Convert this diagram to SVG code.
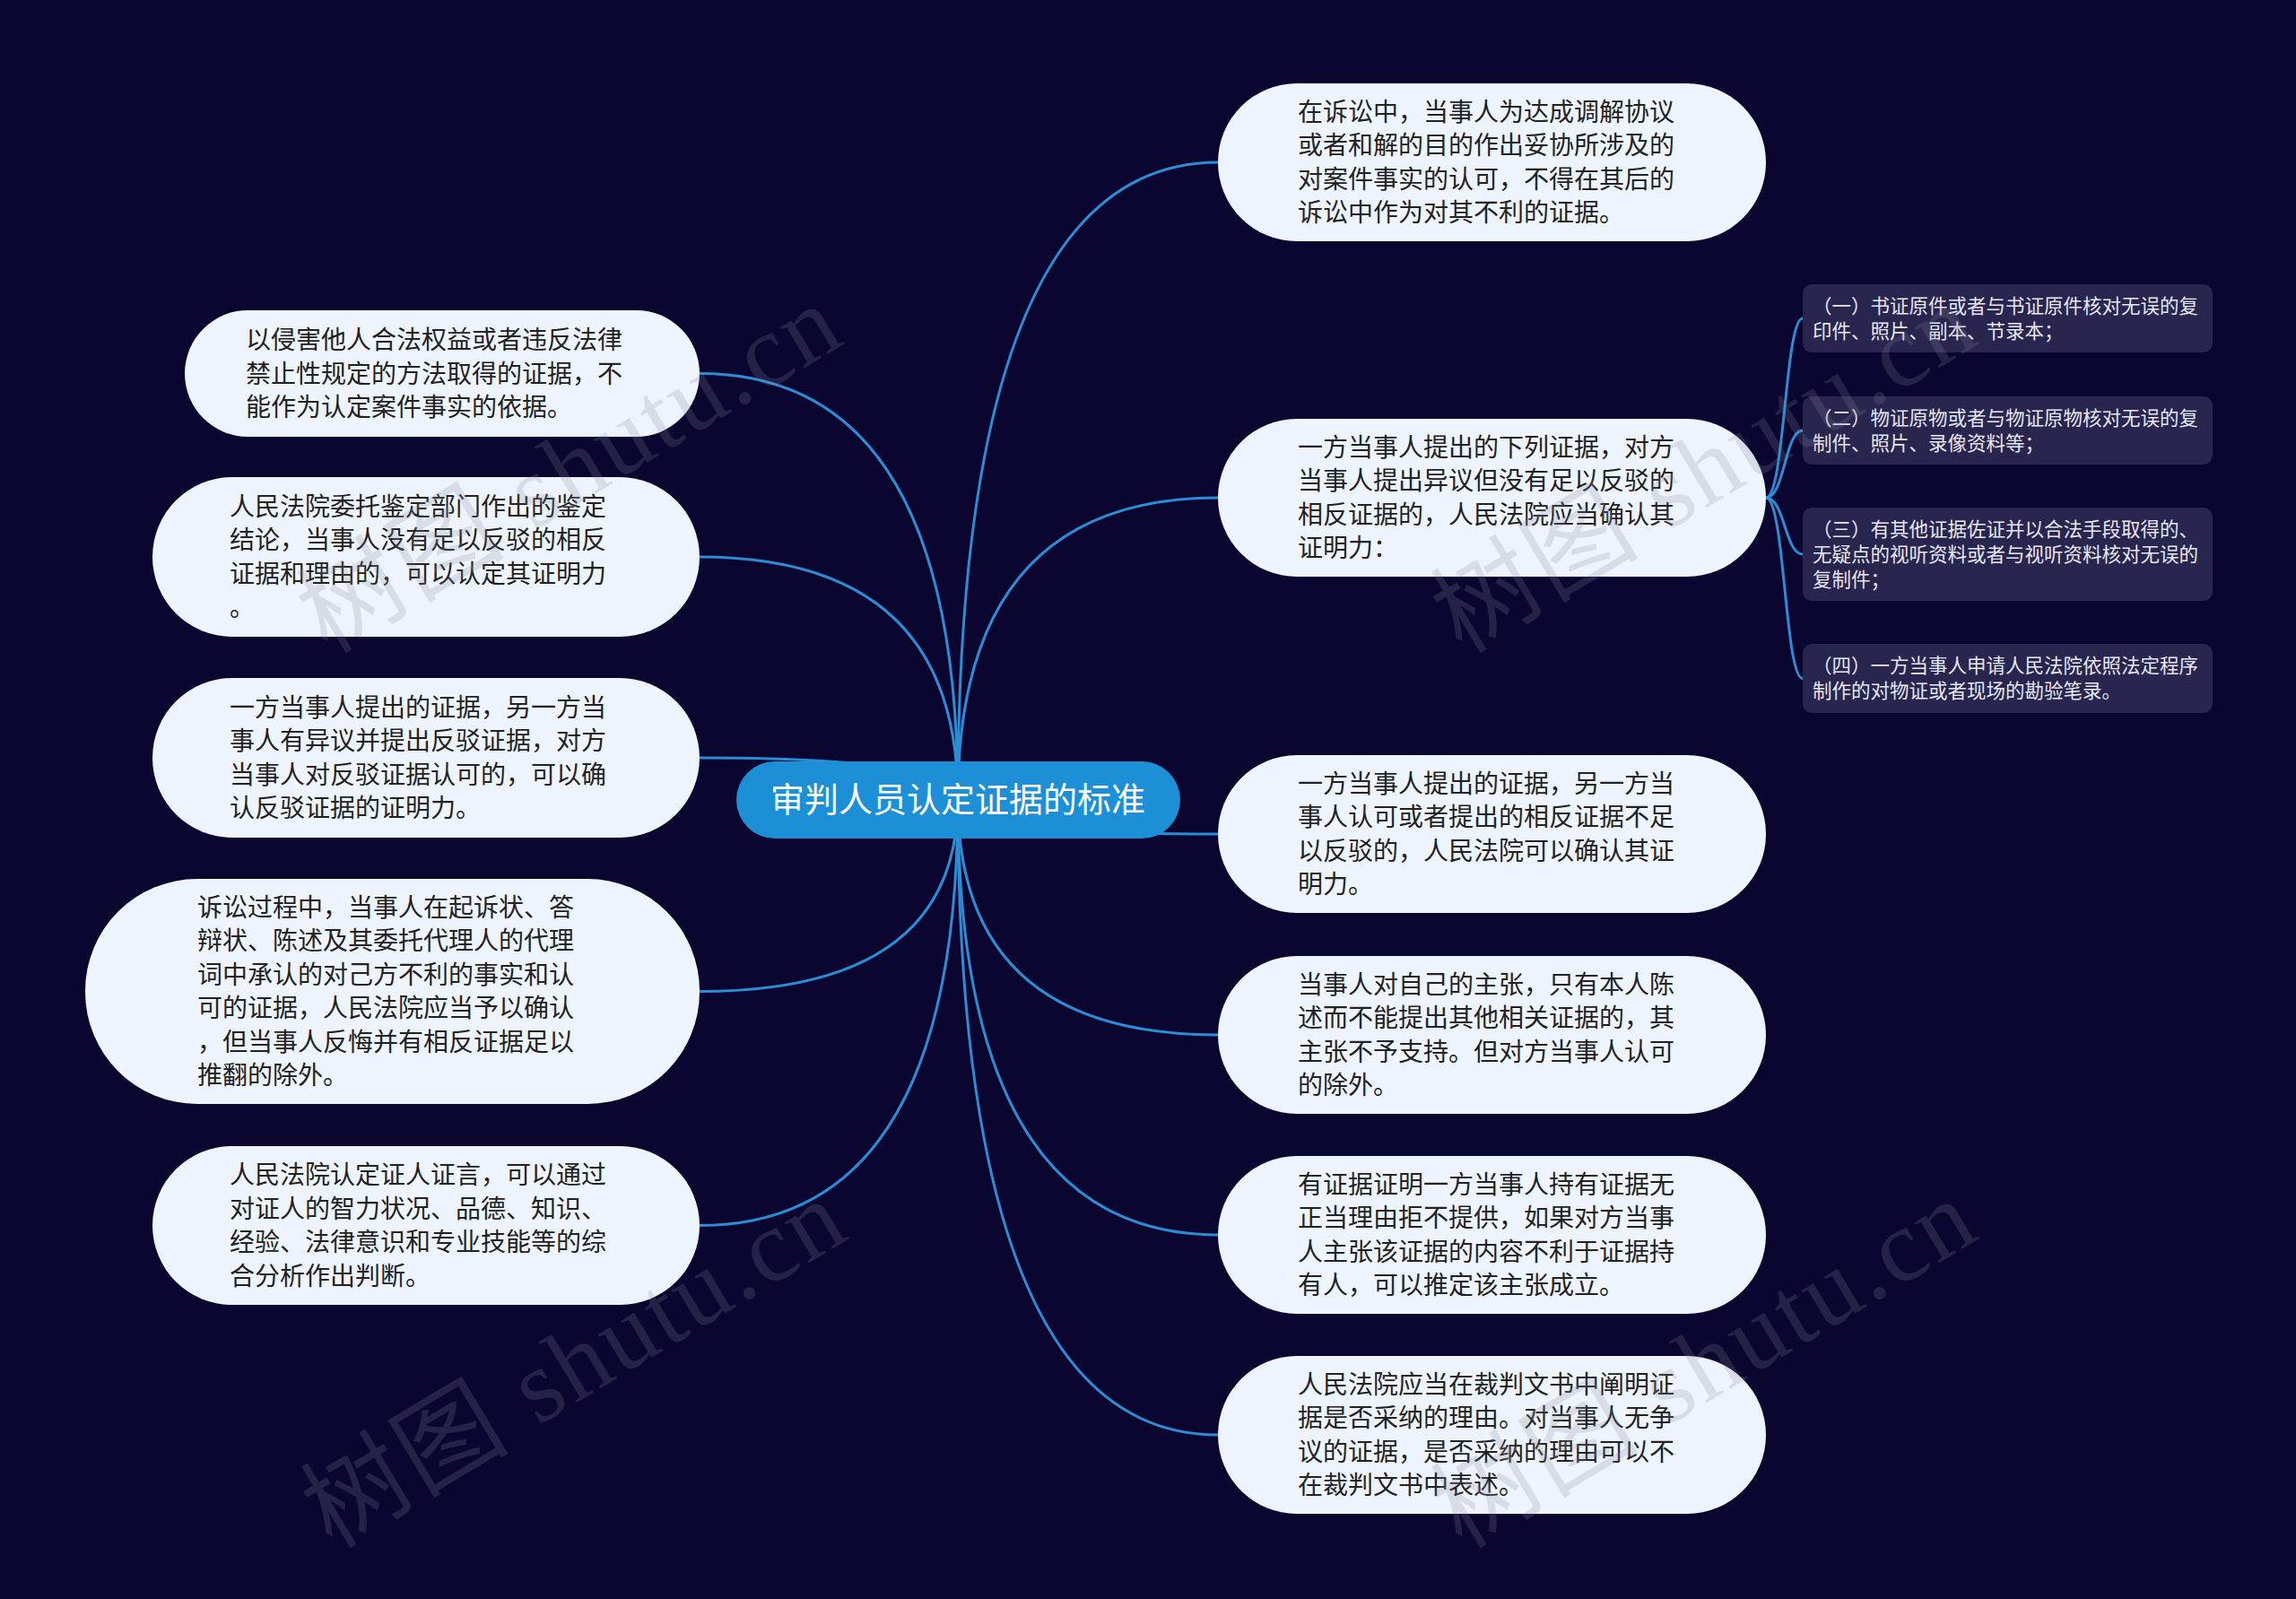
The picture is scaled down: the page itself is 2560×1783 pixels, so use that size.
<svg xmlns="http://www.w3.org/2000/svg" width="2560" height="1783" viewBox="0 0 2560 1783">
<style>
.bg{fill:#0b0630}
.link{fill:none;stroke:#2b8dd6;stroke-width:3}
.node rect{fill:#eef4fd}
.t{font-family:"Noto Sans CJK SC","Noto Sans",sans-serif;font-size:28px;fill:#222}
.root rect{fill:#1d8fd6}
.rt{font-family:"Noto Sans CJK SC","Noto Sans",sans-serif;font-size:38px;fill:#ffffff;text-anchor:middle}
.sub rect{fill:#28254f}
.st{font-family:"Noto Sans CJK SC","Noto Sans",sans-serif;font-size:21.5px;fill:#e6e6f0}
.wm{font-family:"Liberation Serif","Noto Sans CJK SC",serif;font-size:115px;fill:#8a8a9a;fill-opacity:0.22;letter-spacing:3px}
</style>
<rect class="bg" x="0" y="0" width="2560" height="1783"/>
<g id="connectors">
<path class="link" d="M1068,891 Q1068,181 1358,181"/>
<path class="link" d="M1068,891 Q1068,555 1358,555"/>
<path class="link" d="M1068,891 Q1068,930 1358,930"/>
<path class="link" d="M1068,891 Q1068,1154 1358,1154"/>
<path class="link" d="M1068,891 Q1068,1377 1358,1377"/>
<path class="link" d="M1068,891 Q1068,1600 1358,1600"/>
<path class="link" d="M1068,891 Q1068,416.5 780,416.5"/>
<path class="link" d="M1068,891 Q1068,621 780,621"/>
<path class="link" d="M1068,891 Q1068,845 780,845"/>
<path class="link" d="M1068,891 Q1068,1105.5 780,1105.5"/>
<path class="link" d="M1068,891 Q1068,1366.5 780,1366.5"/>
<path class="link" d="M1969,555 C1990,555 1990,355 2010,355"/>
<path class="link" d="M1969,555 C1990,555 1990,480 2010,480"/>
<path class="link" d="M1969,555 C1990,555 1990,618 2010,618"/>
<path class="link" d="M1969,555 C1990,555 1990,756.5 2010,756.5"/>
</g>
<g id="root" class="root">
<rect x="821" y="849" width="495" height="86" rx="43"/>
<text class="rt" x="1068" y="905">审判人员认定证据的标准</text>
</g>
<g id="r1" class="node">
<rect x="1358" y="93" width="611" height="176" rx="88"/>
<text class="t" x="1447" y="134.75"><tspan x="1447">在诉讼中，当事人为达成调解协议</tspan><tspan x="1447" dy="37.5">或者和解的目的作出妥协所涉及的</tspan><tspan x="1447" dy="37.5">对案件事实的认可，不得在其后的</tspan><tspan x="1447" dy="37.5">诉讼中作为对其不利的证据。</tspan></text>
</g>
<g id="r2" class="node">
<rect x="1358" y="467" width="611" height="176" rx="88"/>
<text class="t" x="1447" y="508.75"><tspan x="1447">一方当事人提出的下列证据，对方</tspan><tspan x="1447" dy="37.5">当事人提出异议但没有足以反驳的</tspan><tspan x="1447" dy="37.5">相反证据的，人民法院应当确认其</tspan><tspan x="1447" dy="37.5">证明力：</tspan></text>
</g>
<g id="r3" class="node">
<rect x="1358" y="842" width="611" height="176" rx="88"/>
<text class="t" x="1447" y="883.75"><tspan x="1447">一方当事人提出的证据，另一方当</tspan><tspan x="1447" dy="37.5">事人认可或者提出的相反证据不足</tspan><tspan x="1447" dy="37.5">以反驳的，人民法院可以确认其证</tspan><tspan x="1447" dy="37.5">明力。</tspan></text>
</g>
<g id="r4" class="node">
<rect x="1358" y="1066" width="611" height="176" rx="88"/>
<text class="t" x="1447" y="1107.75"><tspan x="1447">当事人对自己的主张，只有本人陈</tspan><tspan x="1447" dy="37.5">述而不能提出其他相关证据的，其</tspan><tspan x="1447" dy="37.5">主张不予支持。但对方当事人认可</tspan><tspan x="1447" dy="37.5">的除外。</tspan></text>
</g>
<g id="r5" class="node">
<rect x="1358" y="1289" width="611" height="176" rx="88"/>
<text class="t" x="1447" y="1330.75"><tspan x="1447">有证据证明一方当事人持有证据无</tspan><tspan x="1447" dy="37.5">正当理由拒不提供，如果对方当事</tspan><tspan x="1447" dy="37.5">人主张该证据的内容不利于证据持</tspan><tspan x="1447" dy="37.5">有人，可以推定该主张成立。</tspan></text>
</g>
<g id="r6" class="node">
<rect x="1358" y="1512" width="611" height="176" rx="88"/>
<text class="t" x="1447" y="1553.75"><tspan x="1447">人民法院应当在裁判文书中阐明证</tspan><tspan x="1447" dy="37.5">据是否采纳的理由。对当事人无争</tspan><tspan x="1447" dy="37.5">议的证据，是否采纳的理由可以不</tspan><tspan x="1447" dy="37.5">在裁判文书中表述。</tspan></text>
</g>
<g id="l1" class="node">
<rect x="206" y="346" width="574" height="141" rx="70.5"/>
<text class="t" x="274" y="389"><tspan x="274">以侵害他人合法权益或者违反法律</tspan><tspan x="274" dy="37.5">禁止性规定的方法取得的证据，不</tspan><tspan x="274" dy="37.5">能作为认定案件事实的依据。</tspan></text>
</g>
<g id="l2" class="node">
<rect x="170" y="532" width="610" height="178" rx="89"/>
<text class="t" x="256" y="574.75"><tspan x="256">人民法院委托鉴定部门作出的鉴定</tspan><tspan x="256" dy="37.5">结论，当事人没有足以反驳的相反</tspan><tspan x="256" dy="37.5">证据和理由的，可以认定其证明力</tspan><tspan x="256" dy="37.5">。</tspan></text>
</g>
<g id="l3" class="node">
<rect x="170" y="756" width="610" height="178" rx="89"/>
<text class="t" x="256" y="798.75"><tspan x="256">一方当事人提出的证据，另一方当</tspan><tspan x="256" dy="37.5">事人有异议并提出反驳证据，对方</tspan><tspan x="256" dy="37.5">当事人对反驳证据认可的，可以确</tspan><tspan x="256" dy="37.5">认反驳证据的证明力。</tspan></text>
</g>
<g id="l4" class="node">
<rect x="95" y="980" width="685" height="251" rx="125"/>
<text class="t" x="220" y="1021.75"><tspan x="220">诉讼过程中，当事人在起诉状、答</tspan><tspan x="220" dy="37.5">辩状、陈述及其委托代理人的代理</tspan><tspan x="220" dy="37.5">词中承认的对己方不利的事实和认</tspan><tspan x="220" dy="37.5">可的证据，人民法院应当予以确认</tspan><tspan x="220" dy="37.5">，但当事人反悔并有相反证据足以</tspan><tspan x="220" dy="37.5">推翻的除外。</tspan></text>
</g>
<g id="l5" class="node">
<rect x="170" y="1278" width="610" height="177" rx="88.5"/>
<text class="t" x="256" y="1320.25"><tspan x="256">人民法院认定证人证言，可以通过</tspan><tspan x="256" dy="37.5">对证人的智力状况、品德、知识、</tspan><tspan x="256" dy="37.5">经验、法律意识和专业技能等的综</tspan><tspan x="256" dy="37.5">合分析作出判断。</tspan></text>
</g>
<g id="s1" class="sub">
<rect x="2010" y="317" width="457" height="76" rx="10"/>
<text class="st" x="2021" y="348.5"><tspan x="2021">（一）书证原件或者与书证原件核对无误的复</tspan><tspan x="2021" dy="28">印件、照片、副本、节录本；</tspan></text>
</g>
<g id="s2" class="sub">
<rect x="2010" y="442" width="457" height="76" rx="10"/>
<text class="st" x="2021" y="473.5"><tspan x="2021">（二）物证原物或者与物证原物核对无误的复</tspan><tspan x="2021" dy="28">制件、照片、录像资料等；</tspan></text>
</g>
<g id="s3" class="sub">
<rect x="2010" y="566" width="457" height="104" rx="10"/>
<text class="st" x="2021" y="597.5"><tspan x="2021">（三）有其他证据佐证并以合法手段取得的、</tspan><tspan x="2021" dy="28">无疑点的视听资料或者与视听资料核对无误的</tspan><tspan x="2021" dy="28">复制件；</tspan></text>
</g>
<g id="s4" class="sub">
<rect x="2010" y="718" width="457" height="77" rx="10"/>
<text class="st" x="2021" y="750"><tspan x="2021">（四）一方当事人申请人民法院依照法定程序</tspan><tspan x="2021" dy="28">制作的对物证或者现场的勘验笔录。</tspan></text>
</g>
<g id="watermarks">
<text class="wm" transform="translate(365,730) rotate(-31)">树图 shutu.cn</text>
<text class="wm" transform="translate(1630,730) rotate(-31)">树图 shutu.cn</text>
<text class="wm" transform="translate(370,1728) rotate(-31)">树图 shutu.cn</text>
<text class="wm" transform="translate(1630,1728) rotate(-31)">树图 shutu.cn</text>
</g>
</svg>
